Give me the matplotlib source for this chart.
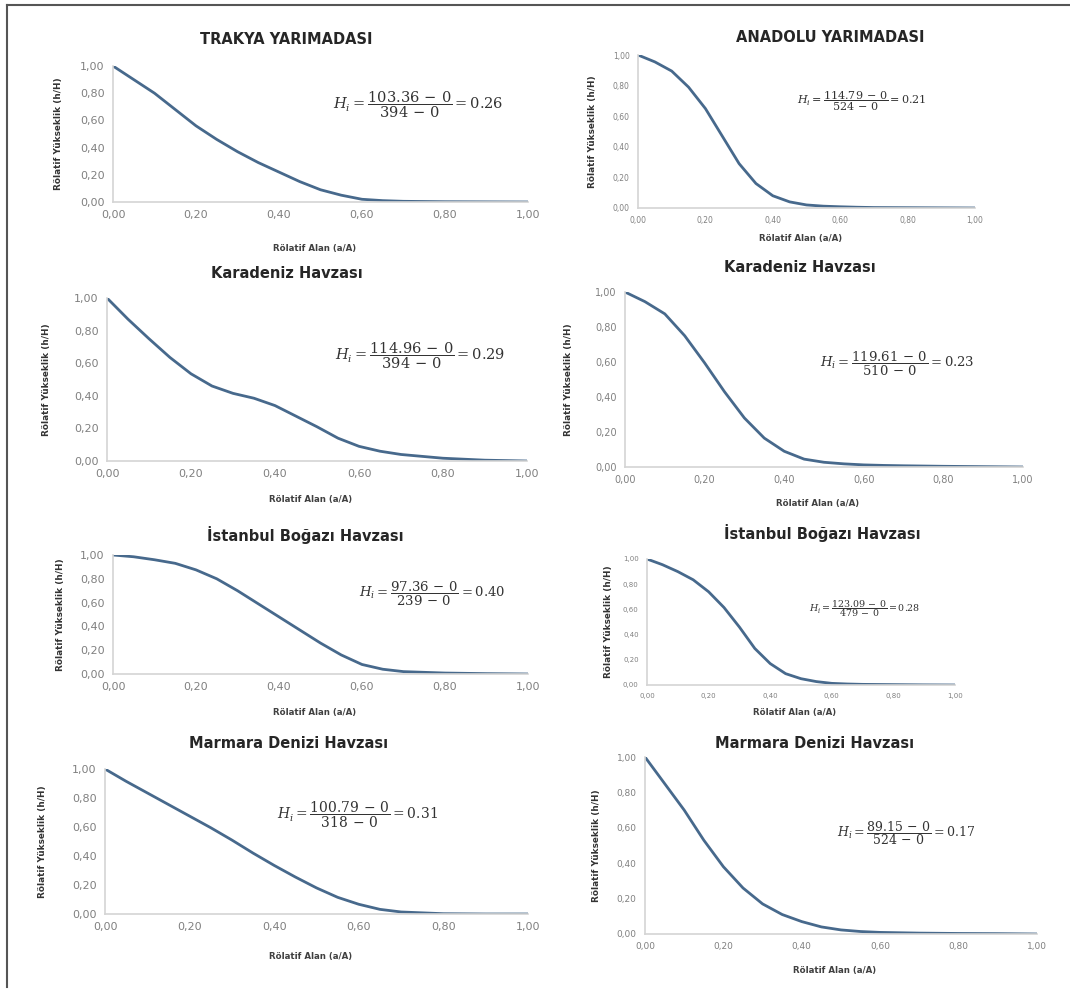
import numpy as np
import matplotlib
matplotlib.use("Agg")
import matplotlib.pyplot as plt
from matplotlib.lines import Line2D

plt.rcParams['font.family'] = ['DejaVu Sans']
plt.rcParams['mathtext.fontset'] = 'dejavuserif'

W, H = 1070, 994

# relative area (a/A) sample positions, shared by all curves
rel_area = [0, 0.05, 0.10, 0.15, 0.20, 0.25, 0.30, 0.35, 0.40, 0.45,
            0.50, 0.55, 0.60, 0.65, 0.70, 0.80, 0.90, 1.00]

# relative height (h/H)
trakya = [1.00, 0.90, 0.80, 0.68, 0.56, 0.46, 0.37, 0.29, 0.22, 0.15,
          0.09, 0.05, 0.02, 0.01, 0.005, 0.002, 0.001, 0.0]
anadolu = [1.00, 0.955, 0.895, 0.79, 0.65, 0.47, 0.29, 0.16, 0.08, 0.04,
           0.02, 0.012, 0.008, 0.005, 0.003, 0.002, 0.001, 0.0]
karadeniz_l = [1.00, 0.87, 0.75, 0.635, 0.535, 0.46, 0.415, 0.385, 0.34, 0.275,
               0.21, 0.14, 0.09, 0.06, 0.04, 0.017, 0.005, 0.0]
karadeniz_r = [1.00, 0.945, 0.875, 0.75, 0.595, 0.43, 0.28, 0.165, 0.09, 0.045,
               0.027, 0.018, 0.012, 0.009, 0.007, 0.004, 0.002, 0.0]
istanbul_l = [1.00, 0.985, 0.96, 0.93, 0.875, 0.80, 0.70, 0.59, 0.48, 0.37,
              0.26, 0.16, 0.08, 0.04, 0.02, 0.008, 0.003, 0.0]
istanbul_r = [1.00, 0.955, 0.90, 0.835, 0.74, 0.615, 0.46, 0.29, 0.17, 0.09,
              0.05, 0.027, 0.013, 0.008, 0.005, 0.003, 0.001, 0.0]
marmara_l = [1.00, 0.915, 0.835, 0.755, 0.675, 0.595, 0.51, 0.42, 0.335, 0.255,
             0.18, 0.115, 0.067, 0.032, 0.014, 0.002, 0.0, 0.0]
marmara_r = [1.00, 0.85, 0.70, 0.53, 0.38, 0.26, 0.17, 0.11, 0.07, 0.04,
             0.023, 0.014, 0.009, 0.007, 0.005, 0.003, 0.002, 0.0]

titles = ["TRAKYA YARIMADASI", "ANADOLU YARIMADASI",
          "Karadeniz Havzası", "Karadeniz Havzası",
          "İstanbul Boğazı Havzası", "İstanbul Boğazı Havzası",
          "Marmara Denizi Havzası", "Marmara Denizi Havzası"]
numerators = ["103.36", "114.79", "114.96", "119.61", "97.36", "123.09", "100.79", "89.15"]
denominators = ["394", "524", "394", "510", "239", "479", "318", "524"]
hi_values = ["0.26", "0.21", "0.29", "0.23", "0.40", "0.28", "0.31", "0.17"]
curves = [trakya, anadolu, karadeniz_l, karadeniz_r,
          istanbul_l, istanbul_r, marmara_l, marmara_r]
ticks = [0, 0.2, 0.4, 0.6, 0.8, 1.0]
tick_labels = ["0,00", "0,20", "0,40", "0,60", "0,80", "1,00"]

# layout in pixels: plot box (x0, x1, y_top, y_bottom), title centre, eq centre, sizes
layout = [
    dict(box=(113, 528, 66, 202), t=(286, 40), eq=(418, 105), ylx=59, xly=248, tfs=8.0, efs=10.5),
    dict(box=(638, 975, 55, 208), t=(830, 38), eq=(862, 101), ylx=593, xly=238, tfs=5.5, efs=8.0),
    dict(box=(107, 527, 298, 461), t=(287, 273), eq=(420, 356), ylx=47, xly=500, tfs=8.0, efs=10.5),
    dict(box=(625, 1023, 292, 467), t=(800, 268), eq=(897, 364), ylx=568, xly=503, tfs=7.0, efs=9.5),
    dict(box=(113, 528, 555, 674), t=(305, 535), eq=(432, 594), ylx=60, xly=712, tfs=8.0, efs=9.5),
    dict(box=(647, 955, 559, 685), t=(822, 533), eq=(865, 609), ylx=608, xly=713, tfs=5.0, efs=6.8),
    dict(box=(105, 528, 769, 914), t=(289, 744), eq=(357, 815), ylx=43, xly=957, tfs=8.0, efs=10.0),
    dict(box=(645, 1037, 757, 934), t=(815, 744), eq=(906, 833), ylx=597, xly=970, tfs=6.5, efs=9.0),
]

line_color = '#47698c'
axis_color = '#d4d4d4'
tick_color = '#808080'

fig = plt.figure(figsize=(W / 100, H / 100), dpi=100)
fig.patch.set_facecolor('white')

for i, lay in enumerate(layout):
    x0, x1, yt, yb = lay['box']
    ax = fig.add_axes([x0 / W, 1 - yb / H, (x1 - x0) / W, (yb - yt) / H])
    ax.plot(rel_area, curves[i], color=line_color, lw=2.0,
            solid_capstyle='round', solid_joinstyle='round')
    ax.set_xlim(0, 1)
    ax.set_ylim(0, 1)
    for s in ['top', 'right']:
        ax.spines[s].set_visible(False)
    for s in ['left', 'bottom']:
        ax.spines[s].set_color(axis_color)
        ax.spines[s].set_linewidth(1.2)
    ax.set_xticks(ticks)
    ax.set_xticklabels(tick_labels)
    ax.set_yticks(ticks)
    ax.set_yticklabels(tick_labels)
    ax.tick_params(length=0, labelsize=lay['tfs'], labelcolor=tick_color, pad=6)

    # title
    fig.text(lay['t'][0] / W, 1 - lay['t'][1] / H, titles[i], ha='center', va='center',
             fontsize=10.5, fontweight='bold', color='#262626')
    # axis labels
    cx = (x0 + x1) / 2 - 6
    fig.text(lay['ylx'] / W, 1 - ((yt + yb) / 2) / H, "Rölatif Yükseklik (h/H)",
             rotation=90, ha='center', va='center', fontsize=6.4,
             fontweight='bold', color='#333333')
    fig.text(cx / W, 1 - lay['xly'] / H, "Rölatif Alan (a/A)", ha='center',
             va='center', fontsize=6.2, fontweight='bold', color='#404040')
    # hypsometric integral
    eq = r'$H_i = \dfrac{%s\, -\, 0}{%s\, -\, 0} = %s$' % (
        numerators[i], denominators[i], hi_values[i])
    fig.text(lay['eq'][0] / W, 1 - lay['eq'][1] / H, eq, ha='center', va='center',
             fontsize=lay['efs'], color='#333333')

# outer frame (left and top edges)
fig.add_artist(Line2D([7 / W, 7 / W], [1 - 987 / H, 1 - 5 / H], color='#555555', lw=1.5))
fig.add_artist(Line2D([7 / W, 1.0], [1 - 5 / H, 1 - 5 / H], color='#555555', lw=1.5))

fig.savefig("out.png", dpi=100)
